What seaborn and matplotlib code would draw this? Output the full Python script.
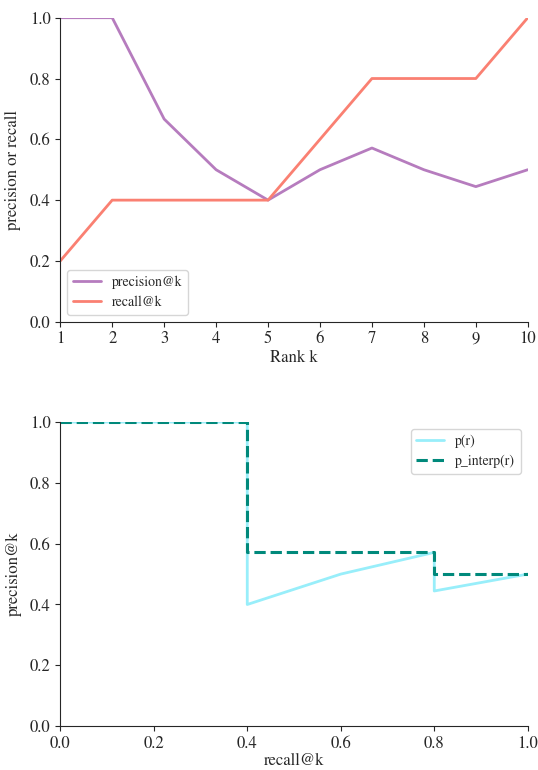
import numpy as np
import pandas as pd
import matplotlib
matplotlib.use("Agg")
import matplotlib.pyplot as plt
import seaborn as sns

sns.set_style("ticks")
plt.rcParams['font.family'] = ['STIXGeneral', 'Liberation Serif', 'DejaVu Serif']
plt.rcParams['font.size'] = 12

ranks = [1, 2, 3, 4, 5, 6, 7, 8, 9, 10]
precision_at_k = [1.0, 1.0, 2 / 3, 0.5, 0.4, 0.5, 4 / 7, 0.5, 4 / 9, 0.5]
recall_at_k = [0.2, 0.4, 0.4, 0.4, 0.4, 0.6, 0.8, 0.8, 0.8, 1.0]

# p(r) curve starts at recall 0 with precision 1
curve_recall = [0.0] + recall_at_k
curve_precision = [1.0] + precision_at_k
interp_precision = [max(curve_precision[i:]) for i in range(len(curve_precision))]

df_k = pd.DataFrame({'k': ranks, 'precision@k': precision_at_k, 'recall@k': recall_at_k})
df_pr = pd.DataFrame({'r': curve_recall, 'p': curve_precision, 'pi': interp_precision})

fig, (ax1, ax2) = plt.subplots(2, 1, figsize=(5.38, 7.7), dpi=100)
fig.subplots_adjust(left=0.112, right=0.981, top=0.977, bottom=0.057, hspace=0.33)

sns.lineplot(data=df_k, x='k', y='precision@k', ax=ax1, color='#b67cbe', lw=2, label='precision@k')
sns.lineplot(data=df_k, x='k', y='recall@k', ax=ax1, color='#fa8072', lw=2, label='recall@k')
ax1.set_xlim(1, 10)
ax1.set_ylim(0, 1)
ax1.set_xticks(ranks)
ax1.set_xlabel('Rank k', labelpad=2)
ax1.set_ylabel('precision or recall', labelpad=6)
ax1.legend(loc='lower left', fontsize=10)

ax2.plot(df_pr.r, df_pr.p, color='#98eefa', lw=2, label='p(r)')
ax2.plot(df_pr.r, df_pr.pi, color='#00897b', lw=2.2, ls='--', label='p_interp(r)')
ax2.set_xlim(0, 1)
ax2.set_ylim(0, 1)
ax2.set_xlabel('recall@k', labelpad=1)
ax2.set_ylabel('precision@k', labelpad=6)
ax2.legend(loc='upper right', fontsize=10)

sns.despine(fig=fig)
fig.savefig('out.png', dpi=100)
